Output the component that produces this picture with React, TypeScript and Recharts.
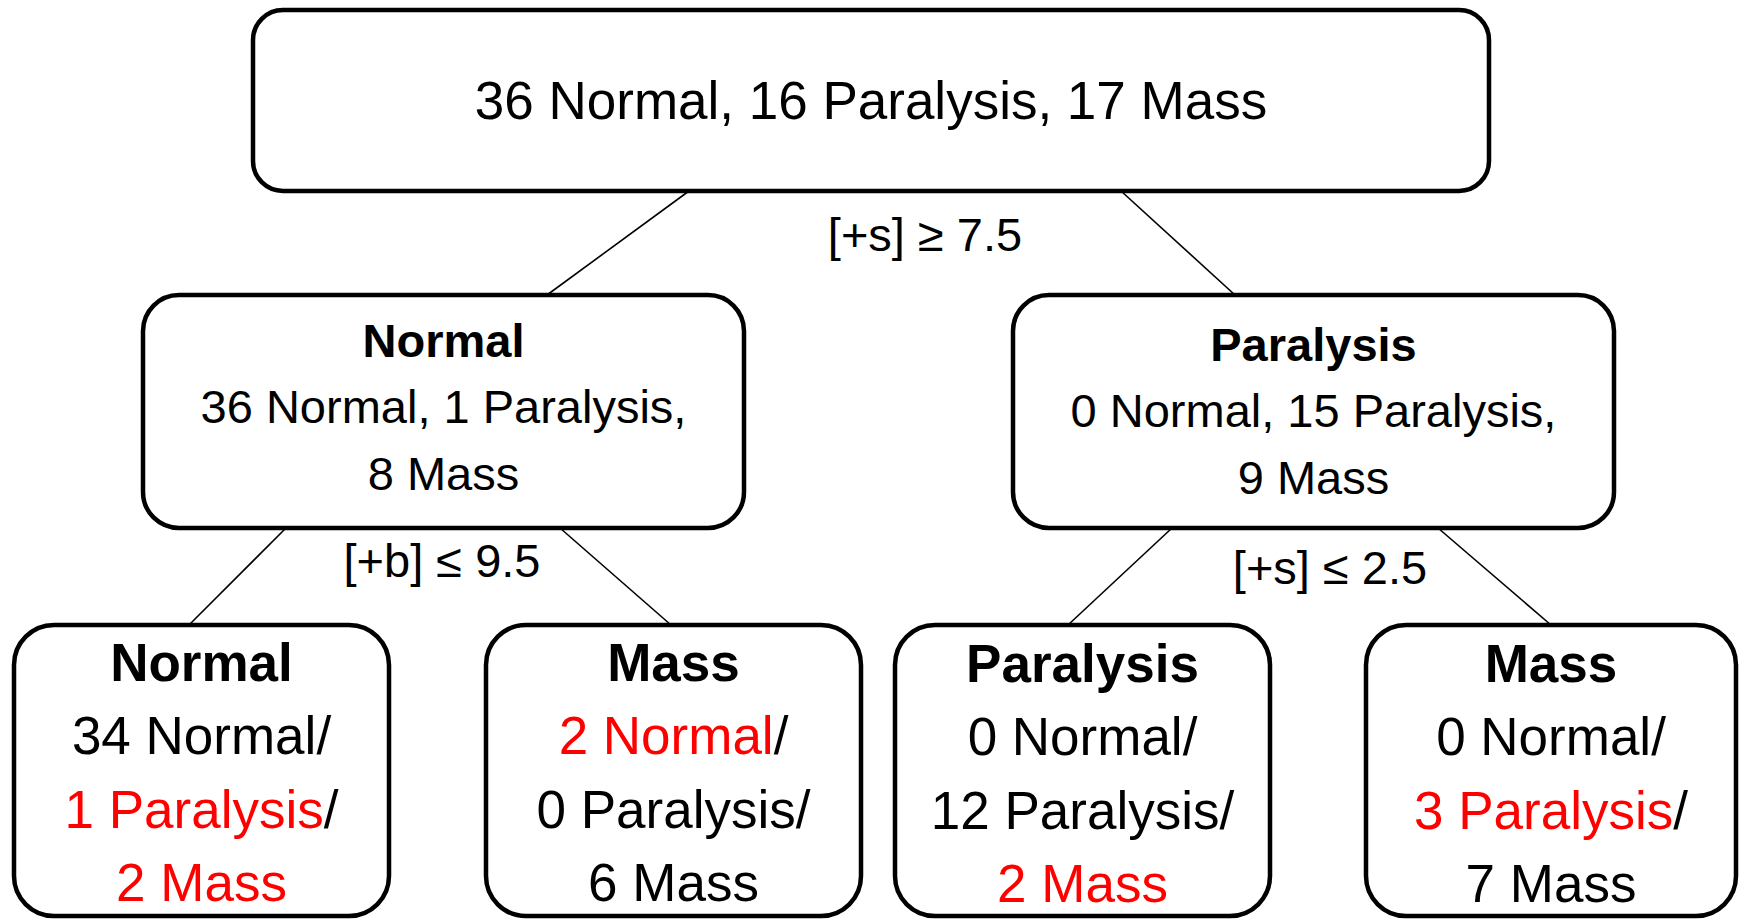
import { ReferenceArea, Scatter, ScatterChart, XAxis, YAxis } from "recharts";

// tree content
const CLASSES = ["Normal", "Paralysis", "Mass"];
const NODE_LABELS = ["", "Normal", "Paralysis", "Normal", "Mass", "Paralysis", "Mass"];
const PARENTS = [-1, 0, 0, 1, 1, 2, 2];
const NORMAL_COUNTS = [36, 36, 0, 34, 2, 0, 0];
const PARALYSIS_COUNTS = [16, 1, 15, 1, 0, 12, 3];
const MASS_COUNTS = [17, 8, 9, 2, 6, 2, 7];
const SPLITS = ["[+s] ≥ 7.5", "[+b] ≤ 9.5", "[+s] ≤ 2.5"];

// layout (chart units, 1 unit = 1px)
const W = 1740;
const H = 920;
const BOXES = [
  [253, 1489, 10, 191],
  [143, 744, 295, 528],
  [1013, 1614, 295, 528],
  [14, 389, 625, 916],
  [486, 861, 625, 916],
  [895, 1270, 625, 916],
  [1366, 1736, 625, 916],
];
const RADIUS = [30, 36, 36, 40, 40, 40, 40];
const EDGE_X = [
  [689, 547],
  [1121, 1235],
  [286, 189],
  [560, 671],
  [1172, 1068],
  [1438, 1551],
];
const SPLIT_POS = [
  [925, 251],
  [442, 577],
  [1330, 584],
];
const LINE_Y = [
  [119],
  [357, 423, 490],
  [361, 427, 494],
  [681, 754, 828, 901],
  [681, 754, 828, 901],
  [682, 755, 829, 902],
  [682, 755, 829, 902],
];
const FONT = "'Liberation Sans', Arial, sans-serif";
const RED = "#ff0000";

type Part = { t: string; red?: boolean };
type TextItem = { x: number; y: number; size: number; bold?: boolean; parts: Part[] };

const counts = (i: number) => [NORMAL_COUNTS[i], PARALYSIS_COUNTS[i], MASS_COUNTS[i]];
const level = (i: number) => (PARENTS[i] < 0 ? 0 : PARENTS[PARENTS[i]] < 0 ? 1 : 2);

const texts: TextItem[] = [];
BOXES.forEach((b, i) => {
  const cx = (b[0] + b[1]) / 2;
  const c = counts(i);
  const ys = LINE_Y[i];
  const lv = level(i);
  if (lv === 0) {
    const s = c.map((n, k) => `${n} ${CLASSES[k]}`).join(", ");
    texts.push({ x: cx, y: ys[0], size: 53, parts: [{ t: s }] });
  } else if (lv === 1) {
    texts.push({ x: cx, y: ys[0], size: 47, bold: true, parts: [{ t: NODE_LABELS[i] }] });
    texts.push({
      x: cx,
      y: ys[1],
      size: 47,
      parts: [{ t: `${c[0]} ${CLASSES[0]}, ${c[1]} ${CLASSES[1]},` }],
    });
    texts.push({ x: cx, y: ys[2], size: 47, parts: [{ t: `${c[2]} ${CLASSES[2]}` }] });
  } else {
    texts.push({ x: cx, y: ys[0], size: 53, bold: true, parts: [{ t: NODE_LABELS[i] }] });
    c.forEach((n, k) => {
      const red = n > 0 && CLASSES[k] !== NODE_LABELS[i];
      const parts: Part[] = [{ t: `${n} ${CLASSES[k]}`, red }];
      if (k < 2) parts.push({ t: "/" });
      texts.push({ x: cx, y: ys[k + 1], size: 53, parts });
    });
  }
});
SPLITS.forEach((s, i) => {
  texts.push({ x: SPLIT_POS[i][0], y: SPLIT_POS[i][1], size: 47, parts: [{ t: s }] });
});

const edges = PARENTS.map((p, i) => ({ p, i }))
  .filter((e) => e.p >= 0)
  .map((e, k) => [
    { x: EDGE_X[k][0], y: BOXES[e.p][3] },
    { x: EDGE_X[k][1], y: BOXES[e.i][2] },
  ]);

const TextShape = (props: any) => {
  const d: TextItem = props.payload;
  return (
    <text
      x={props.cx}
      y={props.cy}
      textAnchor="middle"
      fontFamily={FONT}
      fontSize={d.size}
      fontWeight={d.bold ? 700 : 400}
    >
      {d.parts.map((s, k) => (
        <tspan key={k} fill={s.red ? RED : "#000"}>
          {s.t}
        </tspan>
      ))}
    </text>
  );
};

const NoDot = () => <g />;

export default function App() {
  return (
    <div style={{ position: "absolute", left: 0, top: 0, background: "#fff" }}>
      <ScatterChart width={W} height={H} margin={{ top: 0, right: 0, bottom: 0, left: 0 }}>
        <XAxis type="number" dataKey="x" domain={[0, W]} hide />
        <YAxis type="number" dataKey="y" domain={[0, H]} reversed hide />
        {edges.map((pts, k) => (
          <Scatter
            key={`e${k}`}
            data={pts}
            line={{ stroke: "#000", strokeWidth: 1.6 }}
            shape={NoDot}
            isAnimationActive={false}
          />
        ))}
        {BOXES.map((b, i) => (
          <ReferenceArea
            key={`b${i}`}
            x1={b[0]}
            x2={b[1]}
            y1={b[2]}
            y2={b[3]}
            ifOverflow="visible"
            shape={(p: any) => (
              <rect
                x={p.x}
                y={p.y}
                width={p.width}
                height={p.height}
                rx={RADIUS[i]}
                ry={RADIUS[i]}
                fill="none"
                stroke="#000"
                strokeWidth={4.5}
              />
            )}
          />
        ))}
        <Scatter data={texts} shape={TextShape} isAnimationActive={false} />
      </ScatterChart>
    </div>
  );
}
